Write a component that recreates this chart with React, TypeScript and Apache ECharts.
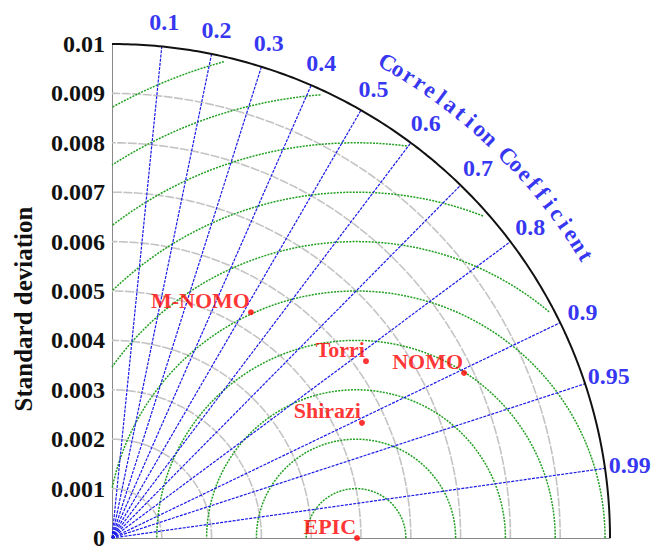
import React, { useEffect, useRef } from "react";
import * as echarts from "echarts";

// ---- data ----
const maxStd = 0.01;
const refStd = 0.0049; // EPIC (reference)
const yTickValues = [0, 0.001, 0.002, 0.003, 0.004, 0.005, 0.006, 0.007, 0.008, 0.009, 0.01];
const yTickLabels = ["0", "0.001", "0.002", "0.003", "0.004", "0.005", "0.006", "0.007", "0.008", "0.009", "0.01"];
const corrTicks = [0.1, 0.2, 0.3, 0.4, 0.5, 0.6, 0.7, 0.8, 0.9, 0.95, 0.99];
const corrTickLabels = ["0.1", "0.2", "0.3", "0.4", "0.5", "0.6", "0.7", "0.8", "0.9", "0.95", "0.99"];
const stdArcs = [0.001, 0.002, 0.003, 0.004, 0.005, 0.006, 0.007, 0.008, 0.009];
const rmsArcs = [0.001, 0.002, 0.003, 0.004, 0.005, 0.006, 0.007, 0.008, 0.009, 0.01];
const modelNames = ["EPIC", "Shirazi", "Torri", "NOMO", "M-NOMO"];
const modelStd = [0.00492, 0.005534, 0.006231, 0.007819, 0.005354];
const modelCorr = [1.0, 0.907, 0.8185, 0.9042, 0.5211];
const corrTitle = "Correlation Coefficient";

const FONT = "'Liberation Serif', 'Times New Roman', serif";

function arc(cx: number, rho: number, a1: number, a2: number, n = 200): number[][] {
  const pts: number[][] = [];
  for (let i = 0; i <= n; i++) {
    const a = a1 + ((a2 - a1) * i) / n;
    pts.push([cx + rho * Math.cos(a), rho * Math.sin(a)]);
  }
  return pts;
}

function lineSeries(data: number[][], color: string, width: number, type: any, z = 1) {
  return {
    type: "line",
    data,
    symbol: "none",
    silent: true,
    smooth: false,
    clip: false,
    z,
    lineStyle: { color, width, type },
  };
}

export default function App() {
  const ref = useRef<HTMLDivElement>(null);
  useEffect(() => {
    if (!ref.current) return;
    const chart = echarts.init(ref.current, undefined, { renderer: "svg" });
    const series: any[] = [];

    // std-dev arcs (gray)
    stdArcs.forEach((r) => {
      series.push(lineSeries(arc(0, r, 0, Math.PI / 2), "#c4c4c4", 1.6, [9, 1.5], 1));
    });

    // RMSD arcs (green) centred on reference
    const clipR = 0.0099;
    rmsArcs.forEach((rho) => {
      const c = refStd;
      let cosv = (clipR * clipR - c * c - rho * rho) / (2 * c * rho);
      cosv = Math.max(-1, Math.min(1, cosv));
      const a1 = Math.acos(cosv);
      const a2 = rho > c ? Math.acos(-c / rho) : Math.PI;
      series.push(lineSeries(arc(c, rho, a1, a2), "#22a022", 1.5, [2, 1.2], 2));
    });

    // correlation rays (blue)
    corrTicks.forEach((c) => {
      series.push(
        lineSeries([[0, 0], [maxStd * c, maxStd * Math.sqrt(1 - c * c)]], "#1a1ae8", 1.2, [3, 1.2], 3)
      );
    });

    // outer arc
    series.push(lineSeries(arc(0, maxStd, 0, Math.PI / 2), "#111", 2, "solid", 4));

    // correlation tick labels
    const rl = 0.0105;
    series.push({
      type: "scatter",
      symbolSize: 0,
      silent: true,
      clip: false,
      z: 5,
      data: corrTicks.map((c, i) => ({
        value: [rl * c, rl * Math.sqrt(1 - c * c)],
        label: { formatter: corrTickLabels[i] },
      })),
      label: {
        show: true,
        position: "inside",
        align: "center",
        verticalAlign: "middle",
        color: "#0000ee",
        fontFamily: FONT,
        fontWeight: "bold",
        fontSize: 24,
      },
    });

    // curved title
    const chars = corrTitle.split("");
    const t1 = 60.1, t2 = 31.0;
    const rt = 0.0111;
    series.push({
      type: "scatter",
      symbolSize: 0,
      silent: true,
      clip: false,
      z: 5,
      data: chars.map((ch, i) => {
        const deg = t1 + ((t2 - t1) * i) / (chars.length - 1);
        const a = (deg * Math.PI) / 180;
        return {
          value: [rt * Math.cos(a), rt * Math.sin(a)],
          label: { formatter: ch === " " ? "" : ch, rotate: deg - 90 },
        };
      }),
      label: {
        show: true,
        position: "inside",
        align: "center",
        verticalAlign: "middle",
        color: "#0000ee",
        fontFamily: FONT,
        fontWeight: "bold",
        fontSize: 23,
      },
    });

    // models
    series.push({
      type: "scatter",
      symbol: "circle",
      symbolSize: 6,
      clip: false,
      z: 6,
      itemStyle: { color: "#ff0000" },
      data: modelNames.map((n, i) => ({
        name: n,
        value: [modelStd[i] * modelCorr[i], modelStd[i] * Math.sqrt(Math.max(0, 1 - modelCorr[i] * modelCorr[i]))],
      })),
      label: {
        show: true,
        formatter: "{b}",
        position: "left",
        distance: 0,
        offset: [2, -12],
        color: "#ff0000",
        fontFamily: FONT,
        fontWeight: "bold",
        fontSize: 22,
      },
    });

    chart.setOption({
      animation: false,
      backgroundColor: "#fff",
      grid: { left: 112, top: 44, width: 498, height: 503, containLabel: false },
      xAxis: {
        type: "value",
        min: 0,
        max: maxStd,
        axisLine: { show: true, onZero: false, lineStyle: { color: "#888", width: 1 } },
        axisTick: { show: false },
        axisLabel: { show: false },
        splitLine: { show: false },
      },
      yAxis: {
        type: "value",
        min: 0,
        max: maxStd,
        interval: 0.001,
        axisLine: { show: true, onZero: false, lineStyle: { color: "#888", width: 1 } },
        axisTick: { show: false },
        splitLine: { show: false },
        axisLabel: {
          margin: 7,
          color: "#111",
          fontFamily: FONT,
          fontWeight: "bold",
          fontSize: 24,
          formatter: (v: number) => {
            const idx = yTickValues.findIndex((t) => Math.abs(t - v) < 1e-9);
            return idx >= 0 ? yTickLabels[idx] : "";
          },
        },
      },
      graphic: [
        {
          type: "text",
          x: 23,
          y: 309,
          rotation: Math.PI / 2,
          style: {
            text: "Standard deviation",
            fill: "#111",
            font: `bold 25px ${FONT}`,
            textAlign: "center",
            textVerticalAlign: "middle",
          },
        },
      ],
      series,
    });
    return () => chart.dispose();
  }, []);
  return <div ref={ref} style={{ position: "absolute", left: 0, top: 0, width: 654, height: 550 }} />;
}
